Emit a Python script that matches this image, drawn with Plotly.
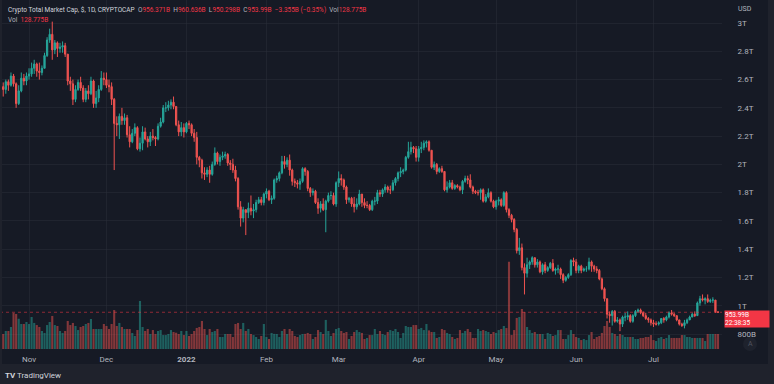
import plotly.graph_objects as go
import pandas as pd

# ---------------- data (billions USD) ----------------
dates = pd.date_range("2021-10-21", "2022-07-26", freq="D")
first_open = 2620
last_open = 956.371

close_oct = [2550, 2530, 2585, 2560, 2625, 2570, 2430, 2520, 2610, 2590, 2625]
high_oct = [2600, 2580, 2600, 2600, 2650, 2640, 2580, 2560, 2650, 2640, 2650]
low_oct = [2480, 2480, 2500, 2520, 2550, 2550, 2400, 2420, 2510, 2560, 2560]

close_nov = [2640, 2680, 2710, 2660, 2650, 2680, 2770, 2880, 2920, 2810, 2860, 2820, 2830, 2840, 2780,
             2590, 2570, 2460, 2530, 2580, 2540, 2460, 2520, 2500, 2590, 2430, 2470, 2530, 2610, 2600]
high_nov = [2680, 2720, 2740, 2720, 2720, 2700, 2790, 2900, 2960, 3010, 2880, 2870, 2860, 2870, 2860,
            2780, 2620, 2600, 2560, 2600, 2620, 2560, 2540, 2560, 2620, 2600, 2520, 2560, 2660, 2650]
low_nov = [2600, 2620, 2640, 2620, 2600, 2630, 2680, 2760, 2860, 2740, 2780, 2760, 2790, 2790, 2760,
           2560, 2520, 2420, 2440, 2520, 2520, 2440, 2440, 2460, 2490, 2400, 2400, 2440, 2520, 2560]

close_dec = [2560, 2550, 2460, 2290, 2280, 2340, 2310, 2330, 2210, 2160, 2220, 2260, 2110, 2150, 2230, 2180,
             2160, 2200, 2190, 2180, 2270, 2300, 2400, 2400, 2420, 2440, 2410, 2280, 2230, 2260, 2230]
high_dec = [2650, 2600, 2580, 2470, 2340, 2360, 2400, 2360, 2350, 2270, 2250, 2290, 2270, 2190, 2270, 2260,
            2200, 2230, 2250, 2200, 2290, 2330, 2420, 2440, 2450, 2460, 2480, 2410, 2310, 2300, 2290]
low_dec = [2540, 2510, 2420, 1960, 2200, 2180, 2280, 2280, 2190, 2120, 2150, 2200, 2100, 2090, 2100, 2170,
           2120, 2130, 2170, 2130, 2170, 2260, 2290, 2370, 2380, 2390, 2390, 2270, 2200, 2200, 2190]

close_jan = [2290, 2280, 2220, 2190, 2050, 2030, 1940, 1930, 1960, 1930, 2000, 2080, 2020, 2050, 2060, 2070,
             2010, 2000, 1960, 1900, 1700, 1620, 1680, 1660, 1690, 1670, 1680, 1730, 1750, 1730, 1790]
high_jan = [2300, 2310, 2290, 2250, 2230, 2060, 2040, 1980, 1980, 1990, 2020, 2120, 2090, 2070, 2090, 2090,
            2080, 2030, 2040, 1990, 1910, 1740, 1700, 1680, 1730, 1780, 1720, 1750, 1770, 1770, 1800]
low_jan = [2220, 2250, 2200, 2160, 2000, 1980, 1900, 1890, 1910, 1870, 1920, 1990, 2000, 1990, 2030, 2040,
           1990, 1960, 1940, 1880, 1680, 1560, 1590, 1500, 1620, 1640, 1620, 1660, 1720, 1710, 1710]

close_feb = [1810, 1750, 1760, 1890, 1900, 1940, 2020, 2000, 2030, 1960, 1880, 1870, 1860, 1880,
             1970, 1950, 1830, 1800, 1810, 1730, 1690, 1720, 1680, 1740, 1780, 1780, 1720, 1870]
high_feb = [1830, 1820, 1780, 1900, 1920, 1950, 2060, 2060, 2050, 2070, 1970, 1900, 1890, 1900,
            1980, 1980, 1960, 1840, 1830, 1820, 1760, 1740, 1760, 1750, 1800, 1810, 1800, 1880]
low_feb = [1760, 1740, 1720, 1750, 1870, 1880, 1930, 1970, 1980, 1920, 1850, 1840, 1830, 1820,
           1870, 1920, 1810, 1770, 1780, 1720, 1650, 1660, 1670, 1520, 1730, 1750, 1710, 1700]

close_mar = [1900, 1890, 1840, 1750, 1760, 1720, 1700, 1720, 1790, 1730, 1710, 1710, 1680, 1740, 1740, 1800,
             1790, 1820, 1840, 1820, 1820, 1870, 1900, 1940, 1950, 1960, 2050, 2090, 2120, 2110, 2050]
high_mar = [1950, 1930, 1900, 1850, 1770, 1770, 1770, 1760, 1820, 1790, 1760, 1740, 1720, 1750, 1770, 1820,
            1820, 1830, 1860, 1850, 1850, 1890, 1910, 1950, 1980, 1970, 2060, 2160, 2160, 2130, 2130]
low_mar = [1840, 1850, 1820, 1720, 1730, 1700, 1660, 1680, 1710, 1700, 1690, 1690, 1670, 1670, 1710, 1720,
           1770, 1770, 1800, 1800, 1790, 1810, 1850, 1880, 1910, 1930, 1950, 2040, 2070, 2080, 2020]

close_apr = [2110, 2120, 2150, 2160, 2100, 1980, 2000, 1950, 1970, 1950, 1820, 1840, 1870, 1830, 1850,
             1840, 1820, 1880, 1900, 1890, 1840, 1810, 1800, 1800, 1820, 1740, 1770, 1800, 1740, 1700]
high_apr = [2130, 2160, 2170, 2170, 2170, 2100, 2020, 2010, 1980, 1990, 1950, 1880, 1890, 1890, 1860,
            1860, 1850, 1890, 1920, 1920, 1930, 1850, 1820, 1820, 1830, 1830, 1790, 1830, 1810, 1750]
low_apr = [2020, 2080, 2100, 2120, 2090, 1970, 1960, 1930, 1940, 1940, 1810, 1800, 1830, 1820, 1820,
           1830, 1810, 1790, 1870, 1860, 1830, 1790, 1790, 1780, 1750, 1730, 1730, 1760, 1730, 1690]

close_may = [1740, 1750, 1710, 1800, 1680, 1640, 1610, 1540, 1390, 1410, 1270, 1230, 1290, 1310, 1340, 1290,
             1310, 1240, 1290, 1250, 1270, 1300, 1250, 1260, 1260, 1220, 1180, 1200, 1220, 1320, 1310]
high_may = [1750, 1770, 1760, 1810, 1810, 1690, 1650, 1620, 1550, 1480, 1440, 1300, 1340, 1320, 1350, 1340,
            1330, 1320, 1300, 1310, 1280, 1310, 1330, 1270, 1290, 1270, 1230, 1210, 1230, 1330, 1340]
low_may = [1680, 1710, 1700, 1700, 1660, 1620, 1590, 1520, 1370, 1360, 1250, 1080, 1200, 1260, 1290, 1270,
           1270, 1230, 1220, 1230, 1240, 1260, 1240, 1220, 1230, 1190, 1160, 1170, 1190, 1210, 1280]

close_jun = [1250, 1280, 1250, 1260, 1260, 1310, 1280, 1260, 1250, 1190, 1120, 1050, 940, 930, 960,
             890, 900, 870, 920, 920, 930, 890, 930, 960, 970, 950, 930, 910, 900, 880]
high_jun = [1330, 1290, 1290, 1270, 1280, 1340, 1320, 1290, 1280, 1260, 1200, 1130, 1050, 960, 970,
            970, 920, 910, 930, 950, 960, 940, 940, 970, 980, 980, 960, 950, 920, 910]
low_jun = [1230, 1230, 1230, 1240, 1240, 1250, 1240, 1240, 1230, 1180, 1110, 1030, 910, 880, 860,
           880, 880, 820, 850, 890, 900, 880, 880, 920, 950, 940, 920, 900, 880, 860]

close_jul = [870, 870, 880, 910, 900, 920, 950, 940, 930, 900, 870, 860, 880,
             900, 920, 940, 930, 1020, 1050, 1040, 1050, 1030, 1040, 1040, 957.345, 953.99]
high_jul = [900, 890, 890, 910, 920, 930, 960, 970, 950, 930, 900, 880, 900,
            910, 930, 950, 960, 1030, 1070, 1080, 1060, 1080, 1050, 1060, 1040, 960.636]
low_jul = [850, 860, 860, 870, 880, 890, 910, 930, 920, 890, 860, 850, 840,
           870, 900, 920, 920, 930, 1000, 1030, 1010, 1020, 1020, 1020, 950, 950.298]

vol_a = [172, 129, 155, 155, 189, 310, 301, 260, 215, 215,
         232, 215, 275, 224, 206, 189, 155, 138, 206, 232,
         284, 206, 198, 155, 138, 155, 241, 206, 224, 198,
         163, 189, 198, 215, 224, 258, 172, 172, 172, 172,
         215, 198, 172, 215, 335, 198, 224, 189, 172, 172,
         172, 138, 112, 163, 413, 189, 155, 172, 129, 163,
         129, 155, 163, 120, 120, 129, 163, 146, 140, 129,
         155, 120, 155, 112, 129, 155, 181, 189, 241, 172,
         120, 172, 146, 155, 172, 103, 103, 129, 129, 129,
         103, 215, 224, 172, 224, 155]
vol_b = [172, 129, 120, 103, 86, 112, 215, 103, 86, 138,
         130, 129, 103, 155, 172, 129, 172, 155, 112, 103,
         120, 129, 130, 138, 129, 86, 103, 163, 146, 129,
         250, 155, 112, 138, 172, 181, 155, 138, 146, 86,
         112, 146, 163, 146, 138, 86, 95, 120, 120, 172,
         129, 155, 129, 120, 146, 163, 155, 172, 146, 95,
         138, 198, 189, 189, 206, 206, 172, 181, 163, 215,
         160, 146, 146, 95, 103, 172, 163, 138, 129, 103,
         86, 95, 163, 138, 155, 172, 146, 95, 95, 172,
         155, 163, 155, 146, 129, 146, 138, 163, 172, 198]
vol_c = [180, 750,
         120, 163, 267, 275, 344, 318, 189, 163, 138, 146,
         129, 129, 129, 86, 138, 129, 112, 120, 163, 163,
         86, 86, 120, 163, 129, 103, 95, 77, 86, 77,
         120, 146, 86, 103, 112, 138, 198, 241, 189, 138,
         129, 112, 129, 120, 103, 103, 103, 103, 86, 86,
         95, 95, 103, 103, 120, 77, 69, 95, 103, 86,
         95, 120, 95, 95, 95, 95, 120, 120, 103, 103,
         95, 95, 95, 95, 95, 69, 129, 129, 129, 129,
         128.775]

price_ticks = [800, 1000, 1200, 1400, 1600, 1800, 2000, 2200, 2400, 2600, 2800, 3000]
price_tick_text = ["800B", "1T", "1.2T", "1.4T", "1.6T", "1.8T", "2T", "2.2T", "2.4T", "2.6T", "2.8T", "3T"]
month_ticks = ["2021-11-01", "2021-12-01", "2022-01-01", "2022-02-01", "2022-03-01",
               "2022-04-01", "2022-05-01", "2022-06-01", "2022-07-01"]
month_text = ["Nov", "Dec", "<b>2022</b>", "Feb", "Mar", "Apr", "May", "Jun", "Jul"]

# ---------------- assemble ----------------
close = (close_oct + close_nov + close_dec + close_jan + close_feb + close_mar
         + close_apr + close_may + close_jun + close_jul)
high = (high_oct + high_nov + high_dec + high_jan + high_feb + high_mar
        + high_apr + high_may + high_jun + high_jul)
low = (low_oct + low_nov + low_dec + low_jan + low_feb + low_mar
       + low_apr + low_may + low_jun + low_jul)
volume = vol_a + vol_b + vol_c
n = min(len(dates), len(close), len(high), len(low), len(volume))
dates = dates[:n]
close = close[:n]; high = high[:n]; low = low[:n]; volume = volume[:n]
opn = [first_open] + close[:-1]
opn[-1] = last_open
high = [max(h, o, c) for h, o, c in zip(high, opn, close)]
low = [min(l, o, c) for l, o, c in zip(low, opn, close)]

UP = "#26a69a"
DN = "#ef5350"
RED = "#f23645"
vol_colors = ["rgba(38,166,154,0.5)" if c >= o else "rgba(239,83,80,0.5)" for o, c in zip(opn, close)]

BG = "#161a25"
OUT = "#1f222c"
TXT = "#b2b5be"
GRID = "rgba(42,46,57,0.55)"

fig = go.Figure()
fig.add_trace(go.Bar(x=dates, y=volume, marker=dict(color=vol_colors, line=dict(width=0)),
                     yaxis="y2", showlegend=False, hoverinfo="skip"))
fig.add_trace(go.Candlestick(x=dates, open=opn, high=high, low=low, close=close,
                             increasing=dict(line=dict(color=UP, width=1), fillcolor=UP),
                             decreasing=dict(line=dict(color=DN, width=1), fillcolor=DN),
                             showlegend=False, hoverinfo="skip"))

W, H = 774, 384
L, R, T, B = 0, 52, 0, 35
pw, ph = W - L - R, H - T - B

def px_x(p):
    return (p - L) / pw

def px_y(p):
    return (H - B - p) / ph

fig.update_layout(
    width=W, height=H,
    margin=dict(l=L, r=R, t=T, b=B, autoexpand=False),
    paper_bgcolor=BG, plot_bgcolor=BG,
    bargap=0.18,
    hovermode=False,
    font=dict(family="Roboto, Liberation Sans, sans-serif", size=8, color=TXT),
    xaxis=dict(type="date", range=["2021-10-20 18:00", "2022-07-27 13:00"],
               rangeslider=dict(visible=False),
               tickvals=month_ticks, ticktext=month_text,
               showgrid=True, gridcolor=GRID, gridwidth=1,
               zeroline=False, showline=False, ticks="outside", ticklen=2,
               tickcolor="rgba(0,0,0,0)",
               tickfont=dict(size=8, color=TXT)),
    yaxis=dict(range=[694, 3163], side="right", tickvals=price_ticks, ticktext=price_tick_text,
               showgrid=True, gridcolor=GRID, gridwidth=1, zeroline=False, showline=False,
               ticks="outside", ticklen=13, tickcolor="rgba(0,0,0,0)",
               tickfont=dict(size=8, color=TXT)),
    yaxis2=dict(range=[0, 3000], overlaying="y", visible=False, showgrid=False),
)

shapes = [
    # current price line
    dict(type="line", xref="paper", yref="y", x0=0, x1=1, y0=close[-1], y1=close[-1],
         line=dict(color="rgba(242,54,69,0.55)", width=1, dash="dot")),
    # outer strips
    dict(type="rect", xref="paper", yref="paper", x0=px_x(0), x1=px_x(W), y0=px_y(H), y1=px_y(364),
         fillcolor=OUT, line=dict(width=0), layer="above"),
    dict(type="rect", xref="paper", yref="paper", x0=px_x(768), x1=px_x(W), y0=px_y(H), y1=px_y(0),
         fillcolor=OUT, line=dict(width=0), layer="above"),
    dict(type="rect", xref="paper", yref="paper", x0=px_x(0), x1=px_x(2), y0=px_y(H), y1=px_y(0),
         fillcolor=OUT, line=dict(width=0), layer="above"),
    # "A" button
    dict(type="circle", xref="paper", yref="paper", x0=px_x(743), x1=px_x(757), y0=px_y(351), y1=px_y(337),
         fillcolor="#1e222d", line=dict(width=0), layer="above"),
]
fig.update_layout(shapes=shapes)

hdr = (f"<span style='color:#d1d4dc'>Crypto Total Market Cap, $, 1D, CRYPTOCAP</span>  "
       f"O<span style='color:{RED}'>956.371B</span>  "
       f"H<span style='color:{RED}'>960.636B</span>  "
       f"L<span style='color:{RED}'>950.298B</span>  "
       f"C<span style='color:{RED}'>953.99B</span>  "
       f"<span style='color:{RED}'>−3.355B (−0.35%)</span>  "
       f"Vol<span style='color:{RED}'>128.775B</span>")
annotations = [
    dict(text=hdr, xref="paper", yref="paper", x=px_x(6), y=px_y(10), xanchor="left", yanchor="middle",
         showarrow=False, font=dict(size=6.5, color=TXT)),
    dict(text=f"Vol  <span style='color:{RED}'>128.775B</span>", xref="paper", yref="paper",
         x=px_x(6), y=px_y(20), xanchor="left", yanchor="middle", showarrow=False,
         font=dict(size=6.5, color=TXT)),
    dict(text="USD", xref="paper", yref="paper", x=px_x(736), y=px_y(9), xanchor="left",
         yanchor="middle", showarrow=False, font=dict(size=7, color=TXT)),
    dict(text="953.99B<br>22:38:35", xref="paper", yref="y", x=px_x(724), y=close[-1],
         xanchor="left", yanchor="top", yshift=2, showarrow=False, align="left",
         bgcolor=RED, borderpad=0, width=44, font=dict(size=6.5, color="#ffffff")),
    dict(text="A", xref="paper", yref="paper", x=px_x(750), y=px_y(344), xanchor="center",
         yanchor="middle", showarrow=False, font=dict(size=7, color="#50535e")),
    dict(text="<b>TV</b> TradingView", xref="paper", yref="paper", x=px_x(3), y=px_y(375),
         xanchor="left", yanchor="middle", showarrow=False, font=dict(size=8, color="#d1d4dc")),
]
fig.update_layout(annotations=annotations)

fig.write_html("out.html", config={"displayModeBar": False, "staticPlot": True},
               post_script="document.body.style.margin='0';document.body.style.background='#161a25';"
                           "document.body.style.overflow='hidden';")
